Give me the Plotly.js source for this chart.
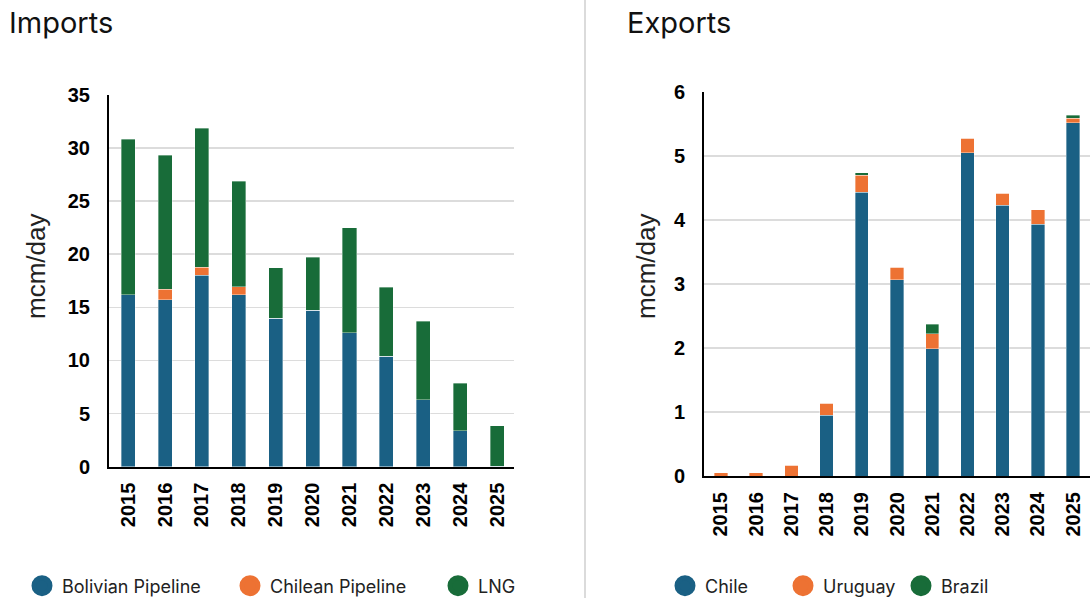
<!DOCTYPE html>
<html>
<head>
<meta charset="utf-8">
<script src="https://cdn.plot.ly/plotly-3.0.1.min.js"></script>
<style>html,body{margin:0;padding:0;background:#fff;}#chart{width:1090px;height:598px;}</style>
</head>
<body>
<div id="chart"></div>
<script>
const years = ['2015','2016','2017','2018','2019','2020','2021','2022','2023','2024','2025'];
// Imports (mcm/day)
const bolivianPipeline = [16.2, 15.7, 18.0, 16.2, 13.95, 14.7, 12.6, 10.4, 6.3, 3.36, 0.05];
const chileanPipeline  = [0, 1.0, 0.75, 0.75, 0, 0, 0, 0, 0, 0, 0];
const lng              = [14.6, 12.6, 13.1, 9.9, 4.75, 5.0, 9.9, 6.5, 7.4, 4.5, 3.8];
// Exports (mcm/day)
const chile   = [0, 0, 0, 0.95, 4.43, 3.07, 1.99, 5.05, 4.23, 3.93, 5.52];
const uruguay = [0.05, 0.05, 0.17, 0.19, 0.27, 0.19, 0.23, 0.23, 0.19, 0.23, 0.07];
const brazil  = [0, 0, 0, 0, 0.04, 0, 0.15, 0, 0, 0, 0.05];

const BLUE = '#1a6084', ORANGE = '#ed7233', GREEN = '#186c39';
const barLine = {width: 0.6, color: 'rgba(255,255,255,0.6)'};

function bar(y, name, color, xa, ya) {
  return {type: 'bar', x: years, y: y, name: name, xaxis: xa, yaxis: ya,
          marker: {color: color, line: barLine}, showlegend: false,
          hovertemplate: name + ' %{x}: %{y}<extra></extra>'};
}
function legendItem(name, color, leg) {
  return {type: 'scatter', mode: 'markers', x: [null], y: [null], name: name,
          legend: leg, marker: {color: color, size: 16, symbol: 'circle', line: {color: color, width: 5}},
          xaxis: 'x', yaxis: 'y', hoverinfo: 'skip'};
}

const data = [
  bar(bolivianPipeline, 'Bolivian Pipeline', BLUE, 'x', 'y'),
  bar(chileanPipeline, 'Chilean Pipeline', ORANGE, 'x', 'y'),
  bar(lng, 'LNG', GREEN, 'x', 'y'),
  bar(chile, 'Chile', BLUE, 'x2', 'y2'),
  bar(uruguay, 'Uruguay', ORANGE, 'x2', 'y2'),
  bar(brazil, 'Brazil', GREEN, 'x2', 'y2'),
  legendItem('Bolivian Pipeline', BLUE, 'legend'),
  legendItem('Chilean Pipeline', ORANGE, 'legend'),
  legendItem('LNG', GREEN, 'legend'),
  legendItem('Chile', BLUE, 'legend2'),
  legendItem('Uruguay', ORANGE, 'legend2'),
  legendItem('Brazil', GREEN, 'legend2')
];

const W = 1090, H = 598;
const tickFont = {family: 'Liberation Sans, Arial, sans-serif', size: 20, color: '#000', weight: 'bold'};
const xCommon = {type: 'category', tickangle: -90, tickfont: tickFont, showgrid: false,
  showline: true, linecolor: '#000', linewidth: 2, ticks: '', ticklabelstandoff: 6, fixedrange: true};
const yCommon = {tickfont: tickFont, showgrid: true, gridcolor: '#dcdcdc', gridwidth: 1.5,
  showline: true, linecolor: '#000', linewidth: 2, ticks: '', zeroline: false, ticklabelstandoff: 13, fixedrange: true};

const legendCommon = {orientation: 'h', yanchor: 'middle', xanchor: 'left', traceorder: 'normal',
  font: {family: 'Inter, sans-serif', size: 18, color: '#222'}, itemsizing: 'trace',
  entrywidthmode: 'pixels', bgcolor: 'rgba(0,0,0,0)'};

const layout = {
  width: W, height: H,
  margin: {l: 0, r: 0, t: 0, b: 0, autoexpand: false},
  paper_bgcolor: '#fff', plot_bgcolor: '#fff',
  barmode: 'stack', bargap: 0.62,
  xaxis: Object.assign({}, xCommon, {domain: [109/W, 514/W], anchor: 'y', range: [-0.52, 10.46]}),
  yaxis: Object.assign({}, yCommon, {domain: [1 - 466.7/H, 1 - 94.7/H], anchor: 'x', range: [0, 35], dtick: 5}),
  xaxis2: Object.assign({}, xCommon, {domain: [704/W, 1], anchor: 'y2', range: [-0.48, 10.48]}),
  yaxis2: Object.assign({}, yCommon, {domain: [1 - 476/H, 1 - 92/H], anchor: 'x2', range: [0, 6], dtick: 1}),
  legend: Object.assign({}, legendCommon, {x: 22/W, y: 1 - 586/H, entrywidth: 163}),
  legend2: Object.assign({}, legendCommon, {x: 665/W, y: 1 - 586/H, entrywidth: 73}),
  shapes: [{type: 'line', xref: 'paper', yref: 'paper', x0: 585/W, x1: 585/W, y0: 0, y1: 1,
            line: {color: '#cfcfcf', width: 1.5}}],
  annotations: [
    {text: 'Imports', xref: 'paper', yref: 'paper', x: 7/W, y: 1 - 23/H, xanchor: 'left', yanchor: 'middle',
     showarrow: false, font: {family: 'Inter, sans-serif', size: 29, color: '#111'}},
    {text: 'Exports', xref: 'paper', yref: 'paper', x: 625/W, y: 1 - 23/H, xanchor: 'left', yanchor: 'middle',
     showarrow: false, font: {family: 'Inter, sans-serif', size: 29, color: '#111'}},
    {text: 'mcm/day', xref: 'paper', yref: 'paper', x: 36/W, y: 1 - 267/H, xanchor: 'center', yanchor: 'middle',
     textangle: -90, showarrow: false, font: {family: 'Liberation Sans, Arial, sans-serif', size: 26, color: '#222'}},
    {text: 'mcm/day', xref: 'paper', yref: 'paper', x: 646/W, y: 1 - 267/H, xanchor: 'center', yanchor: 'middle',
     textangle: -90, showarrow: false, font: {family: 'Liberation Sans, Arial, sans-serif', size: 26, color: '#222'}}
  ]
};

Plotly.newPlot('chart', data, layout, {displayModeBar: false, staticPlot: true});
</script>
</body>
</html>
